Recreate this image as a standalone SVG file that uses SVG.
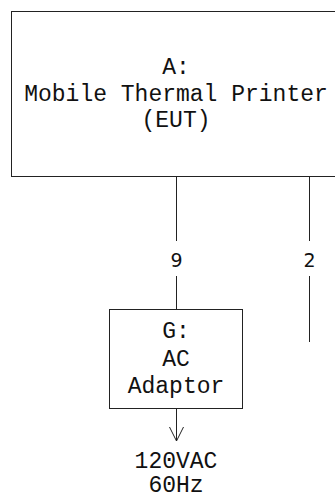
<svg xmlns="http://www.w3.org/2000/svg" width="335" height="500" viewBox="0 0 335 500">
<style>
.box{fill:#fff;stroke:#222;stroke-width:1}
.t{font-family:"Liberation Mono","Courier New",monospace;font-size:23px;fill:#111;text-anchor:middle}
.n{font-family:"DejaVu Sans",sans-serif;font-size:19px;fill:#111;text-anchor:middle}
.c{stroke:#222;stroke-width:1;fill:none}
</style>
<defs>
<marker id="ah" markerWidth="16" markerHeight="16" refX="15" refY="8" orient="auto" markerUnits="userSpaceOnUse" viewBox="0 0 16 16">
<path d="M1,1 L15,8 L1,15" fill="none" stroke="#222" stroke-width="1"/>
</marker>
</defs>
<rect width="335" height="500" fill="#fff"/>
<g id="connectors">
<line class="c" x1="176.5" y1="176" x2="176.5" y2="241"/>
<line class="c" x1="176.5" y1="276" x2="176.5" y2="309"/>
<line class="c" x1="309.5" y1="176" x2="309.5" y2="241"/>
<line class="c" x1="309.5" y1="276" x2="309.5" y2="342"/>
<path class="c" d="M176.5,408 L176.5,441" marker-end="url(#ah)"/>
<text class="n" x="176.5" y="267">9</text>
<text class="n" x="309.5" y="267">2</text>
</g>
<g id="nodeA">
<rect class="box" x="11.5" y="11.5" width="340" height="165"/>
<text class="t" x="176" y="74">A:</text>
<text class="t" x="176" y="101">Mobile Thermal Printer</text>
<text class="t" x="176" y="127">(EUT)</text>
</g>
<g id="nodeG">
<rect class="box" x="109.5" y="309.5" width="133" height="99"/>
<text class="t" x="176" y="338">G:</text>
<text class="t" x="176" y="366">AC</text>
<text class="t" x="176" y="393">Adaptor</text>
</g>
<g id="power">
<text class="t" x="176" y="468">120VAC</text>
<text class="t" x="176" y="492">60Hz</text>
</g>
</svg>
